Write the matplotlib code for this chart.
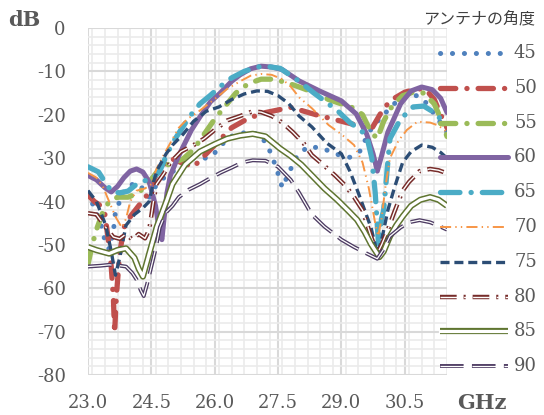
import matplotlib
matplotlib.use('Agg')
import matplotlib.pyplot as plt
from matplotlib.ticker import MultipleLocator

plt.rcParams['lines.scale_dashes'] = False
plt.rcParams['font.family'] = ['DejaVu Serif']

# antenna angle -> (GHz, dB)
f45 = [23.0, 23.15, 23.3, 23.4, 23.5, 23.6, 23.65, 23.75, 23.85, 24.1, 24.3, 24.45, 24.6, 24.82,
       25.1, 25.5, 25.85, 26.0, 26.3, 26.5, 26.8, 27.05, 27.25, 27.45, 27.6, 27.75, 27.95, 28.2,
       28.5, 28.75, 29.0, 29.2, 29.45, 29.65, 29.9, 30.1, 30.3, 30.55, 30.8, 31.0, 31.25, 31.5]
db45 = [-38, -41.5, -45, -49, -51, -47, -42.4, -40, -37.5, -35.7, -37, -39, -36.5, -34.3,
        -32.5, -30, -30, -28.8, -25.5, -24.5, -24, -24.5, -27, -32, -36.8, -33.5, -29.5, -27.4,
        -27.6, -28.5, -29.5, -29.8, -28.3, -24, -21, -19, -17, -15.6, -15.6, -17.2, -20.5, -24]

f50 = [23.0, 23.15, 23.3, 23.4, 23.47, 23.55, 23.6, 23.63, 23.67, 23.75, 23.85, 24.0, 24.2, 24.4,
       24.65, 24.95, 25.2, 25.5, 25.8, 26.05, 26.4, 26.8, 27.2, 27.8, 28.4, 29.0, 29.4, 29.7,
       29.85, 30.0, 30.2, 30.5, 30.8, 31.0, 31.2, 31.35, 31.5]
db50 = [-38.5, -40, -41, -43, -48, -55, -62, -70.3, -62, -52, -46, -43.5, -41, -38.5,
        -33, -30, -31, -32, -29, -26.5, -23, -20.8, -19.5, -18.3, -20, -21.5, -22.5, -23.5,
        -21, -18.5, -16.5, -14.8, -14, -14.2, -16.5, -20, -23]

f55 = [23.0, 23.1, 23.2, 23.35, 23.5, 23.7, 23.95, 24.2, 24.45, 24.65, 24.9, 25.25, 25.5, 25.75,
       26.0, 26.25, 26.5, 26.8, 27.1, 27.4, 27.7, 28.0, 28.3, 28.7, 29.0, 29.3, 29.5, 29.7,
       29.85, 30.0, 30.2, 30.45, 30.7, 30.95, 31.2, 31.4, 31.5]
db55 = [-54.5, -50, -46.5, -42.5, -40, -39, -39, -38, -35.5, -33, -31.5, -30.2, -28, -24.5,
        -21, -18, -15, -12.8, -11.8, -11.8, -12.6, -13.6, -14.7, -16.5, -17.5, -18.5, -20, -24,
        -25.5, -21.5, -18, -15.6, -14.8, -15, -17.5, -22, -25]

f60 = [23.0, 23.2, 23.4, 23.55, 23.7, 23.85, 24.0, 24.15, 24.3, 24.45, 24.6, 24.7, 24.75, 24.8,
       24.87, 24.95, 25.1, 25.25, 25.45, 25.65, 25.9, 26.13, 26.4, 26.6, 26.85, 27.1, 27.35, 27.6,
       28.0, 28.5, 29.0, 29.35, 29.6, 29.75, 29.85, 29.95, 30.1, 30.4, 30.65, 30.9, 31.15, 31.35,
       31.5]
db60 = [-34, -35, -36.8, -37.8, -36.5, -34.5, -33, -32.5, -33.2, -35.5, -41, -47.5, -48.8, -44,
        -38, -34, -30.5, -27.4, -23.5, -20.5, -17, -15, -12.3, -10.8, -9.4, -8.8, -9.0, -9.6,
        -12.2, -14.6, -16.8, -19.8, -24.5, -29, -33, -29.5, -24, -17.5, -14.5, -13.6, -14.2, -16.2,
        -19.5]

f65 = [23.0, 23.25, 23.4, 23.57, 23.75, 23.95, 24.15, 24.35, 24.55, 24.7, 24.85, 25.0, 25.2, 25.4,
       25.65, 25.9, 26.13, 26.4, 26.7, 27.0, 27.2, 27.55, 28.0, 28.35, 28.9, 29.2, 29.45, 29.6,
       29.72, 29.8, 29.88, 29.95, 30.0, 30.08, 30.15, 30.4, 30.7, 30.95, 31.2, 31.5]
db65 = [-32, -33.2, -35.5, -37.8, -38, -37.6, -36, -35.2, -34.5, -33, -29.5, -26.5, -23.5, -20.5,
        -17.5, -15.5, -13.5, -11.5, -10, -9.0, -8.8, -9.3, -12.3, -15, -19, -21.8, -23.5, -25,
        -30, -38, -50, -44, -42, -33, -25.5, -21, -18.2, -18, -19.5, -22.5]

f70 = [23.0, 23.2, 23.35, 23.5, 23.65, 23.8, 23.9, 24.0, 24.15, 24.35, 24.5, 24.62, 24.75, 24.95,
       25.15, 25.35, 25.6, 25.85, 26.05, 26.3, 26.6, 26.85, 27.1, 27.35, 27.6, 27.8, 28.0, 28.3,
       28.7, 29.0, 29.3, 29.5, 29.65, 29.8, 29.87, 29.95, 30.05, 30.15, 30.35, 30.55, 30.8, 31.1,
       31.3, 31.5]
db70 = [-33.4, -34.5, -36.5, -40, -43.5, -46, -44, -40, -37.5, -37, -36, -32.5, -30, -26.5,
        -23, -21, -19.4, -17.5, -16, -14, -12.3, -11, -10.6, -10.8, -11.8, -13.5, -16, -18.5,
        -22.4, -24.5, -27, -31, -37, -45, -48, -44, -36, -30, -26, -23.5, -21.6, -21.8,
        -22.5, -24]

f75 = [23.0, 23.2, 23.42, 23.55, 23.65, 23.75, 23.9, 24.1, 24.3, 24.45, 24.55, 24.65, 24.85, 25.0,
       25.25, 25.5, 25.8, 26.1, 26.4, 26.7, 27.0, 27.25, 27.5, 27.75, 28.0, 28.3, 28.65, 29.0,
       29.2, 29.4, 29.55, 29.7, 29.85, 29.95, 30.1, 30.25, 30.45, 30.65, 30.9, 31.15, 31.35, 31.5]
db75 = [-37.5, -40, -45.5, -51.5, -57, -53, -45.5, -43, -41.5, -40, -35.5, -32.5, -29, -27,
        -24.5, -21.5, -19.2, -18.2, -16.5, -15.2, -14.5, -14.6, -15.6, -17.4, -20.3, -22.8, -26.5, -29,
        -33, -38, -42, -46, -52, -49, -42, -37, -31, -28.5, -27, -27.5, -28.7, -30]

f80 = [23.0, 23.2, 23.35, 23.5, 23.6, 23.75, 23.9, 24.05, 24.2, 24.35, 24.45, 24.55, 24.62, 24.8,
       24.95, 25.2, 25.5, 25.75, 26.0, 26.3, 26.6, 26.9, 27.1, 27.35, 27.6, 27.85, 28.1, 28.3,
       28.6, 28.85, 29.1, 29.3, 29.5, 29.7, 29.85, 29.95, 30.1, 30.25, 30.45, 30.6, 30.85, 31.1,
       31.3, 31.5]
db80 = [-42.7, -43, -45, -47, -48.2, -48.6, -47.5, -48.8, -47.5, -48.5, -46.5, -40, -36, -33.5,
        -31, -28.5, -27, -25.5, -23.5, -21.3, -20.3, -19.2, -19.4, -20.3, -21.8, -24, -26.5, -29.3,
        -31.8, -34, -36.4, -39, -42, -48, -52, -50, -46.5, -42.5, -37.5, -35.5, -33, -32.5,
        -32.8, -33.5]

f85 = [23.0, 23.2, 23.5, 23.7, 23.9, 24.1, 24.2, 24.3, 24.45, 24.63, 24.87, 25.0, 25.3, 25.65,
       26.0, 26.3, 26.6, 26.9, 27.2, 27.55, 27.8, 28.05, 28.33, 28.6, 28.9, 29.15, 29.37, 29.55,
       29.7, 29.9, 30.0, 30.15, 30.3, 30.46, 30.65, 30.87, 31.1, 31.3, 31.5]
db85 = [-50.5, -51.2, -52, -51.2, -50.8, -53, -55.5, -57.3, -52, -45.8, -39.6, -36, -31.5, -28.5,
        -26.8, -25.5, -24.8, -24.4, -25, -27.8, -29.5, -31.5, -34.3, -37, -39.6, -42, -44.2, -47,
        -49.8, -52.8, -51.5, -48, -45.5, -43.3, -41, -39.6, -39, -39.6, -41]

f90 = [23.0, 23.3, 23.5, 23.75, 23.9, 24.05, 24.15, 24.25, 24.32, 24.4, 24.5, 24.6, 24.7, 24.85,
       25.0, 25.15, 25.4, 25.65, 25.9, 26.15, 26.4, 26.65, 26.9, 27.2, 27.5, 27.8, 28.0, 28.3,
       28.6, 29.0, 29.3, 29.6, 29.85, 30.0, 30.15, 30.4, 30.6, 30.85, 31.1, 31.3, 31.5]
db90 = [-55, -54.8, -54.6, -54.8, -55, -56.5, -58, -60.5, -61.8, -59, -55, -51, -46, -42.5,
        -41, -39, -37.2, -36, -34.6, -33.3, -32.2, -31, -30.5, -30.6, -32, -35, -38, -43,
        -45.8, -48.8, -50.5, -52, -53.2, -51, -48, -46, -44.8, -44.3, -44.8, -45.6, -46.5]

angles = ['45', '50', '55', '60', '65', '70', '75', '80', '85', '90']
freqs = [f45, f50, f55, f60, f65, f70, f75, f80, f85, f90]
vals = [db45, db50, db55, db60, db65, db70, db75, db80, db85, db90]

# colour, width, dash pattern (pt), cap, inner white width for compound lines
styles = [
    ('#4F81BD', 3.6, (0, (0.1, 8.5)), 'round', 0),
    ('#C0504D', 3.8, (0, (11, 8, 0.1, 8)), 'round', 0),
    ('#9BBB59', 3.8, (0, (11, 8, 0.1, 8)), 'round', 0),
    ('#8064A2', 3.6, '-', 'round', 0),
    ('#4BACC6', 3.8, (0, (14, 8, 0.1, 8)), 'round', 0),
    ('#F79646', 1.4, (0, (8, 3, 1, 3, 1, 3)), 'butt', 0),
    ('#2C4D75', 2.4, (0, (6.5, 3.5)), 'butt', 0),
    ('#772C2A', 3.2, (0, (12, 5, 1.5, 5)), 'butt', 1.0),
    ('#5F7530', 4.5, '-', 'butt', 2.3),
    ('#4D3B62', 2.8, (0, (17, 6)), 'butt', 0.9),
]

fig = plt.figure(figsize=(5.44, 4.15), dpi=100)
ax = fig.add_axes([88 / 544, 1 - 375 / 415, (447 - 88) / 544, (375 - 28) / 415])


def draw(a, x, y, st, z):
    c, lw, ls, cap, inner = st
    a.plot(x, y, color=c, lw=lw, linestyle=ls, dash_capstyle=cap,
           solid_capstyle=cap, solid_joinstyle='round', zorder=z)
    if inner:
        a.plot(x, y, color='white', lw=inner, linestyle=ls, dash_capstyle=cap,
               solid_joinstyle='round', zorder=z + 0.01)


for i in range(len(angles)):
    draw(ax, freqs[i], vals[i], styles[i], 2 + i * 0.1)

ax.set_xlim(23, 31.5)
ax.set_ylim(-80, 0)
ax.xaxis.set_major_locator(MultipleLocator(1.5))
ax.xaxis.set_minor_locator(MultipleLocator(0.3))
ax.yaxis.set_major_locator(MultipleLocator(10))
ax.yaxis.set_minor_locator(MultipleLocator(2))
ax.grid(which='major', color='#d9d9d9', lw=1.5)
ax.grid(which='minor', color='#ebebeb', lw=1.2)
ax.set_axisbelow(True)
for s in ax.spines.values():
    s.set_visible(False)
ax.tick_params(which='both', length=0, labelsize=13, labelcolor='#595959')
ax.tick_params(axis='y', pad=16)
ax.tick_params(axis='x', pad=14)
ax.set_xticks([23.0, 24.5, 26.0, 27.5, 29.0, 30.5])
ax.set_xticklabels(['23.0', '24.5', '26.0', '27.5', '29.0', '30.5'])
ax.set_yticks(range(-80, 1, 10))
ax.set_yticklabels([str(v) for v in range(-80, 1, 10)])

fig.text(8 / 544, 1 - 20 / 415, 'dB', fontsize=15, fontweight='bold', color='#595959',
         ha='left', va='center')
fig.text(457 / 544, 1 - 403 / 415, 'GHz', fontsize=15, fontweight='bold', color='#595959',
         ha='left', va='center')

# legend drawn by hand in pixel coordinates
lax = fig.add_axes([0, 0, 1, 1])
lax.set_xlim(0, 544)
lax.set_ylim(415, 0)
lax.axis('off')
lax.text(479, 19, 'アンテナの角度', fontsize=11.5, color='#404040', ha='center', va='center',
         family=['Noto Sans CJK JP', 'DejaVu Sans'])
for i, a in enumerate(angles):
    y = 53 + i * 34.8
    draw(lax, [440, 508], [y, y], styles[i], 2)
    lax.text(514, y, a, fontsize=13, color='#595959', ha='left', va='center')

fig.savefig('out.png', dpi=100)
